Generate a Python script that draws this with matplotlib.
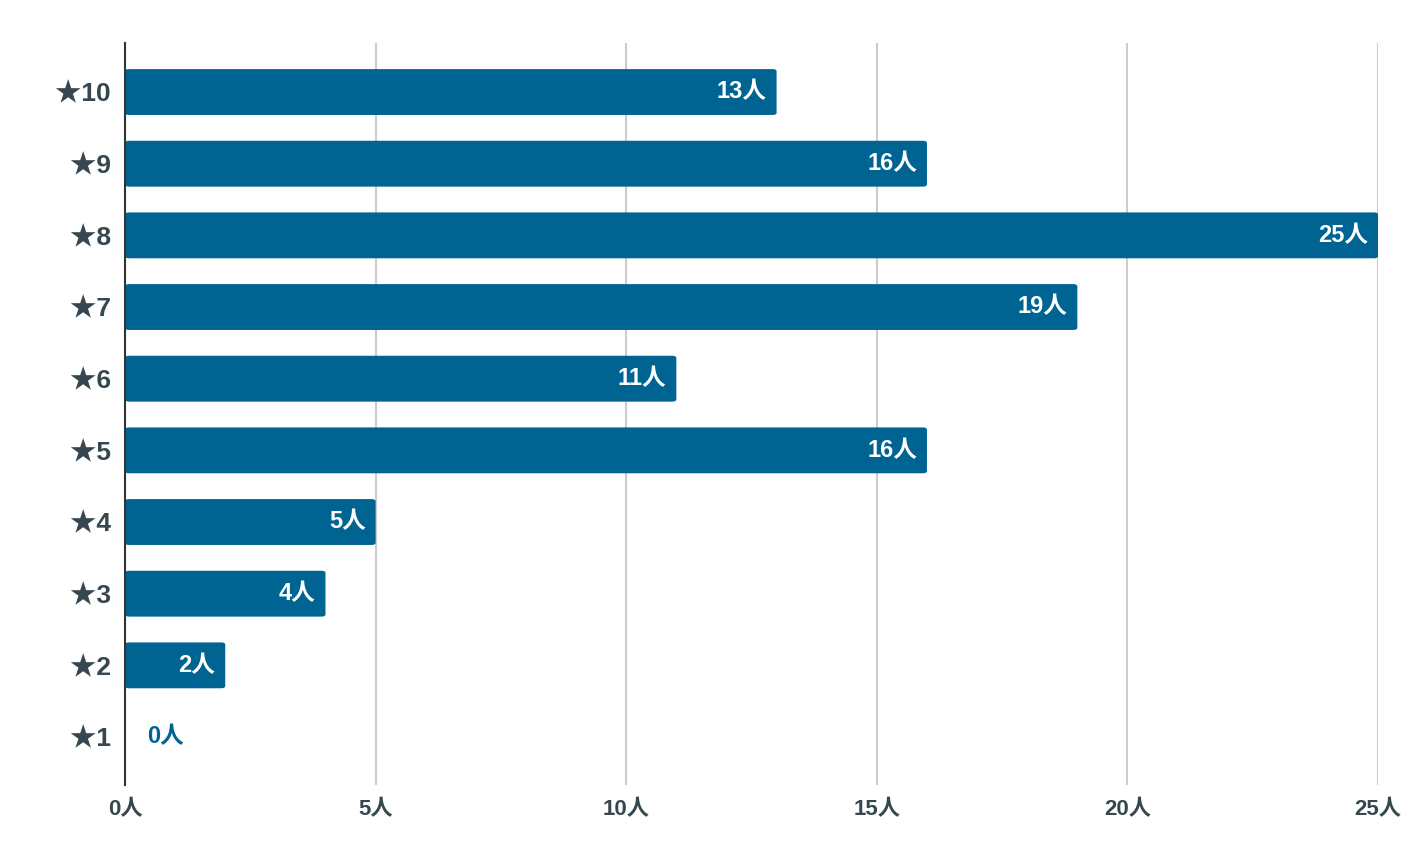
import matplotlib
matplotlib.use('Agg')
import matplotlib.pyplot as plt
from matplotlib.patches import FancyBboxPatch

# star ratings and how many people gave each
categories = ['★1', '★2', '★3', '★4', '★5', '★6', '★7', '★8', '★9', '★10']
counts = [0, 2, 4, 5, 16, 11, 19, 25, 16, 13]
x_ticks = [0, 5, 10, 15, 20, 25]

plt.rcParams['font.family'] = ['Liberation Sans', 'Noto Sans CJK JP', 'DejaVu Sans']

BAR_COLOR = '#006493'
TEXT_COLOR = '#37474f'

fig = plt.figure(figsize=(14.22, 8.66), dpi=100)
ax = fig.add_axes([0.0879, 0.0935, 0.8812, 0.8565])

ypos = list(range(len(categories)))
bars = ax.barh(ypos, counts, height=0.64, color=BAR_COLOR, zorder=3)

# swap the plain rectangles for slightly rounded ones
for b in bars:
    if b.get_width() <= 0:
        continue
    x, y = b.get_x(), b.get_y()
    w, h = b.get_width(), b.get_height()
    b.set_visible(False)
    rp = FancyBboxPatch((x, y), w, h, boxstyle='round,pad=0,rounding_size=0.08',
                        mutation_aspect=1 / 2.6, fc=BAR_COLOR, ec='none', zorder=3)
    ax.add_patch(rp)

for i, v in enumerate(counts):
    if v > 0:
        ax.text(v - 0.2, i, f'{v}人', ha='right', va='center', color='white',
                fontsize=17, fontweight='bold', zorder=4)
    else:
        ax.text(v + 0.45, i, f'{v}人', ha='left', va='center', color=BAR_COLOR,
                fontsize=17, fontweight='bold', zorder=4)

ax.set_xlim(0, 25)
ax.set_ylim(-0.67, 9.68)
ax.set_xticks(x_ticks)
ax.set_xticklabels([f'{t}人' for t in x_ticks])
ax.set_yticks(ypos)
ax.set_yticklabels(categories)

for lab in ax.get_xticklabels():
    lab.set_fontweight('bold')
    lab.set_fontsize(16)
    lab.set_color(TEXT_COLOR)
for lab in ax.get_yticklabels():
    lab.set_fontweight('bold')
    lab.set_fontsize(19)
    lab.set_color(TEXT_COLOR)

ax.tick_params(axis='both', length=0)
ax.tick_params(axis='x', pad=10)
ax.tick_params(axis='y', pad=10)

ax.grid(axis='x', color='#cccccc', linewidth=1.5, zorder=0)
ax.grid(axis='y', visible=False)
for s in ['top', 'right', 'bottom']:
    ax.spines[s].set_visible(False)
ax.spines['left'].set_color('#333333')
ax.spines['left'].set_linewidth(1.5)
ax.spines['left'].set_zorder(5)

fig.savefig('out.png', dpi=100)
